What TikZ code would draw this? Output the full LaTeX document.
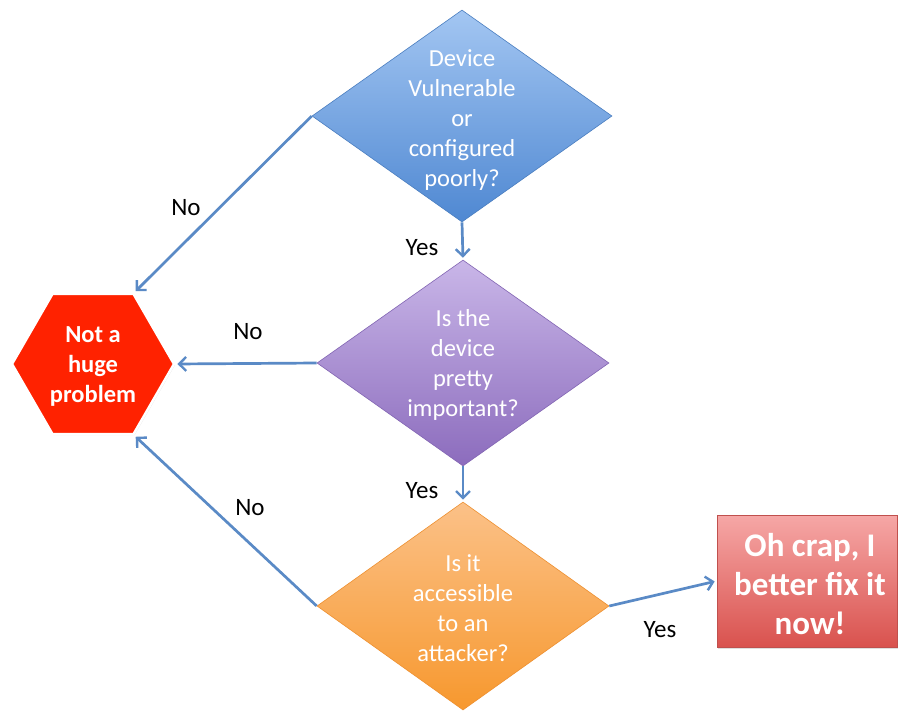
\documentclass[tikz,border=0pt]{standalone}
\usepackage{fontspec}
\setmainfont{Carlito}
\usetikzlibrary{shapes.geometric,arrows.meta,shadows}
\definecolor{arr}{HTML}{5A8AC6}
\definecolor{bluetop}{HTML}{A3C6F2}
\definecolor{bluebot}{HTML}{4F88D2}
\definecolor{bluedge}{HTML}{4A7EC0}
\definecolor{purtop}{HTML}{C9B6E8}
\definecolor{purbot}{HTML}{8C6CBD}
\definecolor{puredge}{HTML}{8265B3}
\definecolor{orgtop}{HTML}{FBC188}
\definecolor{orgbot}{HTML}{F7982E}
\definecolor{orgedge}{HTML}{EE9030}
\definecolor{hexred}{HTML}{FF2200}
\definecolor{rectop}{HTML}{F6A7A6}
\definecolor{recbot}{HTML}{D9524E}
\definecolor{recedge}{HTML}{C0504D}
\tikzset{
  dia/.style={diamond, inner sep=0pt, line width=0.6pt},
  diatxt/.style={text=white, align=center, font=\fontsize{24.5}{30}\selectfont},
  lbl/.style={text=black, font=\fontsize{25}{29}\selectfont},
  conn/.style={draw=arr, line width=2.7pt, -{Straight Barb[length=7pt,width=14pt,line width=2.4pt]}, shorten >=2pt},
}
\begin{document}
\begin{tikzpicture}[x=1pt,y=-1pt]
\useasboundingbox (0,0) rectangle (899,715);
\fill[white] (0,0) rectangle (899,715);
% diamonds
\node[dia, draw=bluedge, top color=bluetop, bottom color=bluebot, minimum width=300pt, minimum height=212pt] (d1) at (462,116) {};
\node[diatxt] (t1) at (462,120) {Device\\Vulnerable\\or\\configured\\poorly?};
\node[dia, draw=puredge, top color=purtop, bottom color=purbot, minimum width=292pt, minimum height=206pt] (d2) at (463,363) {};
\node[diatxt] (t2) at (463,365) {Is the\\device\\pretty\\important?};
\node[dia, draw=orgedge, top color=orgtop, bottom color=orgbot, minimum width=292pt, minimum height=208pt] (d3) at (463,606) {};
\node[diatxt] (t3) at (463,608) {Is it\\accessible\\to an\\attacker?};
% hexagon
\node[regular polygon, regular polygon sides=6, minimum size=162pt, inner sep=0pt, fill=hexred, draw=white, line width=2.5pt, drop shadow={opacity=0.25, shadow xshift=1pt, shadow yshift=-1pt}] (hex) at (93,364) {};
\node[text=white, align=center, font=\fontsize{24.5}{30}\selectfont\bfseries] (ht) at (93,366) {Not a\\huge\\problem};
% rectangle
\node[rectangle, minimum width=180pt, minimum height=132pt, inner sep=0pt, draw=recedge, line width=0.8pt, top color=rectop, bottom color=recbot, drop shadow={opacity=0.25, shadow xshift=1pt, shadow yshift=-1.5pt}] (fix) at (807,581) {};
\node[text=white, align=center, font=\fontsize{33}{39}\selectfont\bfseries] (ft) at (810,584) {Oh crap, I\\better fix it\\now!};
% connectors
\draw[conn] (d1.west) -- (hex.60);
\draw[conn] (d1.south) -- (d2.north);
\draw[conn] (d2.west) -- (hex.east);
\draw[conn] (d2.south) -- (d3.north);
\draw[conn] (d3.west) -- (hex.-60);
\draw[conn] (d3.east) -- (fix.west);
% labels
\node[lbl] (l1) at (186,208) {No};
\node[lbl] (l2) at (422,248) {Yes};
\node[lbl] (l3) at (248,332) {No};
\node[lbl] (l4) at (422,491) {Yes};
\node[lbl] (l5) at (250,508) {No};
\node[lbl] (l6) at (660,630) {Yes};
\end{tikzpicture}
\end{document}
